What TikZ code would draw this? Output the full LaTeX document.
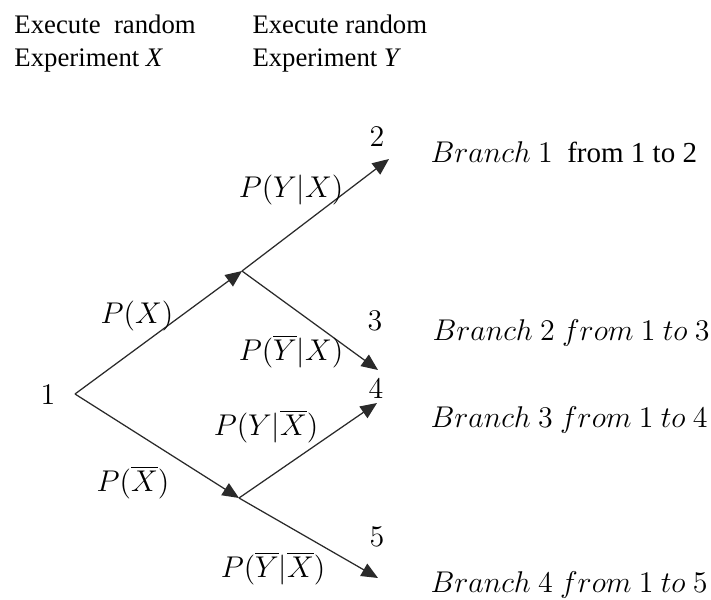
\documentclass[tikz,border=0pt]{standalone}
\usepackage{fontspec}
\setmainfont{Liberation Serif}
\usetikzlibrary{arrows.meta}
\definecolor{LINEc}{HTML}{2A2A2A}

\begin{document}
\begin{tikzpicture}[
  x=0.4pt, y=-0.4pt,
  % header text in Times-like roman
  hdr/.style={anchor=north west, align=left, inner sep=0pt,
              font=\fontsize{10.7}{13.2}\selectfont},
  % probability labels on the branches
  plab/.style={inner sep=0pt, font=\fontsize{11.9}{13}\selectfont},
  % outcome numbers at the tips
  num/.style={inner sep=0pt, font=\fontsize{12.3}{13}\selectfont},
  % branch summaries on the right
  blab/.style={anchor=west, inner sep=0pt, font=\fontsize{11.6}{13}\selectfont},
  ar/.style={-{Triangle[length=6.6pt, width=5.6pt]}, draw=LINEc, line width=0.5pt},
]
\useasboundingbox (0,0) rectangle (711,599);

% ---------- Headers ----------
\node[hdr] (HX) at (14,14) {Execute~ random\\Experiment \textit{X}};
\node[hdr] (HY) at (252,14) {Execute random\\Experiment \textit{Y}};

% ---------- Tree points ----------
\coordinate (root) at (75,394);
\coordinate (xa) at (242,271);
\coordinate (xb) at (239,498);
\coordinate (y2) at (389,159);
\coordinate (y3) at (378,370);
\coordinate (y4) at (377,403);
\coordinate (y5) at (378,578);

% ---------- Branches ----------
\draw[ar] (root) -- (xa);
\draw[ar] (root) -- (xb);
\draw[ar] (xa) -- (y2);
\draw[ar] (xa) -- (y3);
\draw[ar] (xb) -- (y4);
\draw[ar] (xb) -- (y5);

% ---------- Outcome numbers ----------
\node[num] (N1) at (48,395) {$1$};
\node[num] (N2) at (377,137) {$2$};
\node[num] (N3) at (375,321) {$3$};
\node[num] (N4) at (376,389) {$4$};
\node[num] (N5) at (377,537) {$5$};

% ---------- Probabilities ----------
\node[plab] (PX) at (137,316) {$P(X)$};
\node[plab] (PXb) at (133,482) {$P(\overline{X})$};
\node[plab] (PYX) at (291,190) {$P(Y|X)$};
\node[plab] (PYbX) at (291,351) {$P(\overline{Y}|X)$};
\node[plab] (PYXb) at (266,426) {$P(Y|\overline{X})$};
\node[plab] (PYbXb) at (273,568) {$P(\overline{Y}|\overline{X})$};

% ---------- Branch summaries ----------
\node[blab] (B1) at (430,152) {$Branch\ 1$\ \ from 1 to 2};
\node[blab] (B2) at (432,333) {$Branch\ 2\ from\ 1\ to\ 3$};
\node[blab] (B3) at (430,420) {$Branch\ 3\ from\ 1\ to\ 4$};
\node[blab] (B4) at (430,585) {$Branch\ 4\ from\ 1\ to\ 5$};

\end{tikzpicture}
\end{document}
